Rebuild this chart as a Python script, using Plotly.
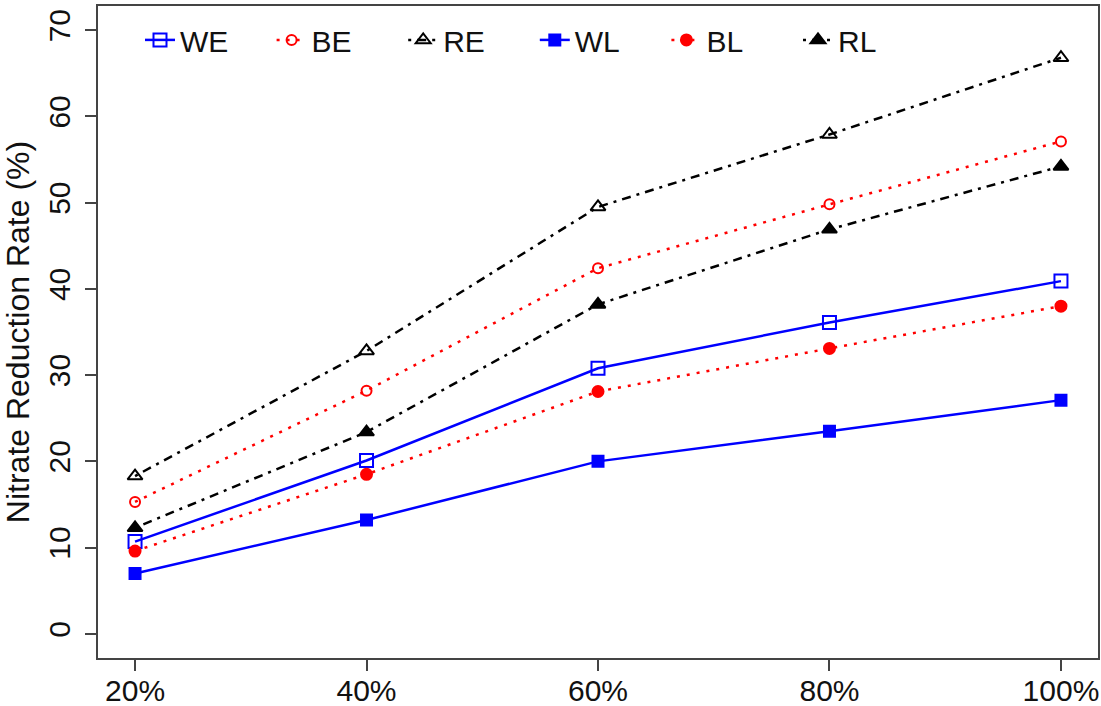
import plotly.graph_objects as go

# Nitrate reduction rate (%) by proportion level
levels = ["20%", "40%", "60%", "80%", "100%"]

we = [10.7, 20.1, 30.8, 36.1, 40.9]
be = [15.3, 28.2, 42.4, 49.8, 57.1]
re = [18.3, 32.8, 49.5, 57.9, 66.8]
wl = [7.0, 13.2, 20.0, 23.5, 27.1]
bl = [9.6, 18.5, 28.1, 33.1, 38.0]
rl = [12.3, 23.4, 38.2, 46.9, 54.2]

y_ticks = [0, 10, 20, 30, 40, 50, 60, 70]

FONT = "Liberation Sans, Arial, sans-serif"
DOT = "3px,7px"
DOTDASH = "3px,6px,9px,6px"

series = [
    ("WE", we, "#0000FF", "solid", "square-open", 13),
    ("BE", be, "#FF0000", DOT, "circle-open", 10),
    ("RE", re, "#000000", DOTDASH, "triangle-up-open", 13),
    ("WL", wl, "#0000FF", "solid", "square", 11),
    ("BL", bl, "#FF0000", DOT, "circle", 11),
    ("RL", rl, "#000000", DOTDASH, "triangle-up", 13),
]

fig = go.Figure()
for name, vals, color, dash, symbol, size in series:
    fig.add_trace(go.Scatter(
        x=levels, y=vals, name=name, mode="lines+markers",
        line=dict(color=color, width=2.5, dash=dash),
        marker=dict(symbol=symbol, size=size, color=color,
                    line=dict(color=color, width=2)),
    ))

axis_common = dict(
    showline=True, linecolor="#444444", linewidth=1.5, mirror=True,
    ticks="outside", ticklen=11, tickwidth=1.5, tickcolor="#444444",
    showgrid=False, zeroline=False, automargin=False,
    tickfont=dict(family=FONT, size=30, color="#111111"),
)

fig.update_xaxes(type="category", range=[-0.16, 4.16], ticklabelstandoff=-6,
                 **axis_common)
fig.update_yaxes(
    range=[-2.8, 72.8], tickvals=y_ticks, ticktext=[str(v) for v in y_ticks],
    tickangle=-90, ticklabelstandoff=3,
    title=dict(text="Nitrate Reduction Rate (%)",
               font=dict(family=FONT, size=32, color="#111111"), standoff=4),
    **axis_common,
)

fig.update_layout(
    width=1101, height=706,
    margin=dict(l=98, r=3, t=6, b=48),
    paper_bgcolor="white", plot_bgcolor="white",
    font=dict(family=FONT, size=30, color="#111111"),
    showlegend=True,
    legend=dict(
        orientation="h", x=0.042, xanchor="left", y=0.948, yanchor="middle",
        bgcolor="rgba(0,0,0,0)", font=dict(family=FONT, size=30),
        entrywidth=86.6, entrywidthmode="pixels", itemwidth=30,
    ),
)

fig.write_html("out.html")
